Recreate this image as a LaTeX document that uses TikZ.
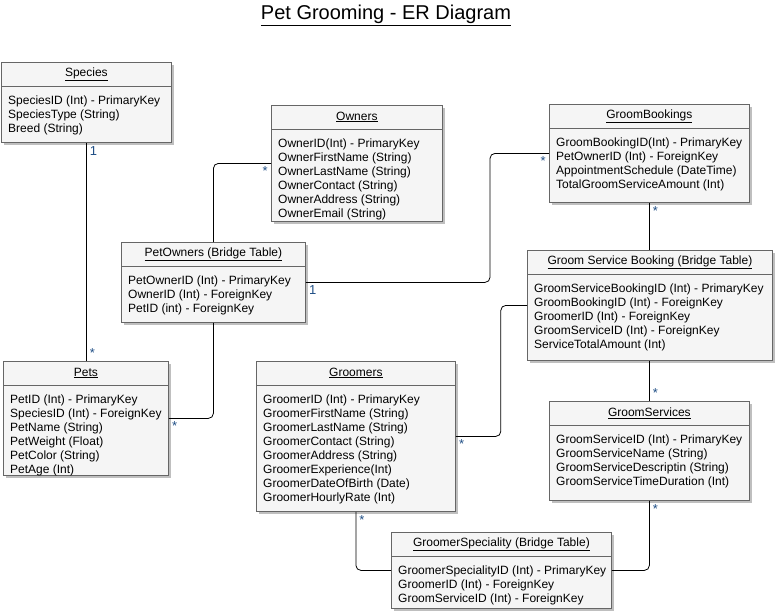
\documentclass[tikz,border=0pt]{standalone}
\usepackage{fontspec}
\setmainfont{Liberation Sans}
\usepackage{tikz}
\usetikzlibrary{shadows}
\usetikzlibrary{positioning}
\definecolor{boxfill}{HTML}{F5F5F5}
\definecolor{boxline}{HTML}{666666}
\definecolor{cardblue}{HTML}{1F4E85}

\begin{document}
\begin{tikzpicture}[x=1pt, y=-1pt,
	entity/.style={draw=boxline, fill=boxfill, anchor=north west, inner sep=0pt, line width=0.8pt, drop shadow={shadow xshift=3pt, shadow yshift=-3pt, fill=black, opacity=0.25}},
	head/.style={font=\fontsize{12}{14}\selectfont, inner sep=0pt},
	fields/.style={font=\fontsize{12}{14}\selectfont, align=left, anchor=north west, inner sep=0pt},
	sepline/.style={draw=boxline, line width=0.8pt},
	link/.style={draw=black, line width=0.8pt, rounded corners=5pt},
	card/.style={text=cardblue, font=\fontsize{13}{15}\selectfont, inner sep=3pt}]
	\useasboundingbox (0,0) rectangle (775,614);
	\node[font=\fontsize{20}{24}\selectfont, inner sep=0pt] (title) at (386,15) {\underline{Pet Grooming - ER Diagram}};

	\node[entity, minimum width=170, minimum height=80] (species) at (1,62) {};
	\node[head] (species head) at ([yshift=-12pt]species.north) {\underline{Species}};
	\draw[sepline] ([yshift=-24pt]species.north west) -- ([yshift=-24pt]species.north east);
	\node[fields] (species fields) at ([xshift=7pt, yshift=-34pt]species.north west) {SpeciesID (Int) - PrimaryKey\\ SpeciesType (String)\\ Breed (String)};

	\node[entity, minimum width=171, minimum height=116] (owners) at (271,105) {};
	\node[head] (owners head) at ([yshift=-12pt]owners.north) {\underline{Owners}};
	\draw[sepline] ([yshift=-24pt]owners.north west) -- ([yshift=-24pt]owners.north east);
	\node[fields] (owners fields) at ([xshift=7pt, yshift=-34pt]owners.north west) {OwnerID(Int) - PrimaryKey\\ OwnerFirstName (String)\\ OwnerLastName (String)\\ OwnerContact (String)\\ OwnerAddress (String)\\ OwnerEmail (String)};

	\node[entity, minimum width=200, minimum height=98] (bookings) at (549,104) {};
	\node[head] (bookings head) at ([yshift=-12pt]bookings.north) {\underline{GroomBookings}};
	\draw[sepline] ([yshift=-24pt]bookings.north west) -- ([yshift=-24pt]bookings.north east);
	\node[fields] (bookings fields) at ([xshift=7pt, yshift=-34pt]bookings.north west) {GroomBookingID(Int) - PrimaryKey\\ PetOwnerID (Int) - ForeignKey\\ AppointmentSchedule (DateTime)\\ TotalGroomServiceAmount (Int)};

	\node[entity, minimum width=184, minimum height=80] (petowners) at (121,242) {};
	\node[head] (petowners head) at ([yshift=-12pt]petowners.north) {\underline{PetOwners (Bridge Table)}};
	\draw[sepline] ([yshift=-24pt]petowners.north west) -- ([yshift=-24pt]petowners.north east);
	\node[fields] (petowners fields) at ([xshift=7pt, yshift=-34pt]petowners.north west) {PetOwnerID (Int) - PrimaryKey\\ OwnerID (Int) - ForeignKey\\ PetID (int) - ForeignKey};

	\node[entity, minimum width=165, minimum height=114] (pets) at (3,361) {};
	\node[head] (pets head) at ([yshift=-12pt]pets.north) {\underline{Pets}};
	\draw[sepline] ([yshift=-24pt]pets.north west) -- ([yshift=-24pt]pets.north east);
	\node[fields] (pets fields) at ([xshift=7pt, yshift=-34pt]pets.north west) {PetID (Int) - PrimaryKey\\ SpeciesID (Int) - ForeignKey\\ PetName (String)\\ PetWeight (Float)\\ PetColor (String)\\ PetAge (Int)};

	\node[entity, minimum width=199, minimum height=150] (groomers) at (256,361) {};
	\node[head] (groomers head) at ([yshift=-12pt]groomers.north) {\underline{Groomers}};
	\draw[sepline] ([yshift=-24pt]groomers.north west) -- ([yshift=-24pt]groomers.north east);
	\node[fields] (groomers fields) at ([xshift=7pt, yshift=-34pt]groomers.north west) {GroomerID (Int) - PrimaryKey\\ GroomerFirstName (String)\\ GroomerLastName (String)\\ GroomerContact (String)\\ GroomerAddress (String)\\ GroomerExperience(Int)\\ GroomerDateOfBirth (Date)\\ GroomerHourlyRate (Int)};

	\node[entity, minimum width=245, minimum height=110] (servicebooking) at (527,250) {};
	\node[head] (servicebooking head) at ([yshift=-12pt]servicebooking.north) {\underline{Groom Service Booking (Bridge Table)}};
	\draw[sepline] ([yshift=-24pt]servicebooking.north west) -- ([yshift=-24pt]servicebooking.north east);
	\node[fields] (servicebooking fields) at ([xshift=7pt, yshift=-34pt]servicebooking.north west) {GroomServiceBookingID (Int) - PrimaryKey\\ GroomBookingID (Int) - ForeignKey\\ GroomerID (Int) - ForeignKey\\ GroomServiceID (Int) - ForeignKey\\ ServiceTotalAmount (Int)};

	\node[entity, minimum width=200, minimum height=99] (services) at (549,401) {};
	\node[head] (services head) at ([yshift=-12pt]services.north) {\underline{GroomServices}};
	\draw[sepline] ([yshift=-24pt]services.north west) -- ([yshift=-24pt]services.north east);
	\node[fields] (services fields) at ([xshift=7pt, yshift=-34pt]services.north west) {GroomServiceID (Int) - PrimaryKey\\ GroomServiceName (String)\\ GroomServiceDescriptin (String)\\ GroomServiceTimeDuration (Int)};

	\node[entity, minimum width=220, minimum height=76] (speciality) at (391,532) {};
	\node[head] (speciality head) at ([yshift=-12pt]speciality.north) {\underline{GroomerSpeciality (Bridge Table)}};
	\draw[sepline] ([yshift=-24pt]speciality.north west) -- ([yshift=-24pt]speciality.north east);
	\node[fields] (speciality fields) at ([xshift=7pt, yshift=-34pt]speciality.north west) {GroomerSpecialityID (Int) - PrimaryKey\\ GroomerID (Int) - ForeignKey\\ GroomServiceID (Int) - ForeignKey};

	\draw[link] (species.south) -- node[card, at start, anchor=north west] (species one) {1} node[card, at end, anchor=south west] (pets many) {*} (species.south |- pets.north);
	\draw[link] (owners.west) -| node[card, at start, anchor=north east] (owners many) {*} (petowners.north);
	\draw[link] (petowners.east) -| ([xshift=-59pt]bookings.west) -- node[card, at end, anchor=north east] (bookings many) {*} (bookings.west);
	\node[card, anchor=north west] (petowners one) at (petowners.east) {1};
	\draw[link] (petowners.south) |- node[card, at end, anchor=north west] (petowners many) {*} (pets.east);
	\draw[link] (bookings.south) -- node[card, at start, anchor=north west] (bookings lines) {*} (bookings.south |- servicebooking.north);
	\draw[link] (servicebooking.west) -| ([xshift=45pt]groomers.east) -- node[card, at end, anchor=north west] (groomers many) {*} (groomers.east);
	\draw[link] (bookings.south |- servicebooking.south) -- node[card, at end, anchor=south west] (services many) {*} (bookings.south |- services.north);
	\draw[link] (groomers.south) |- node[card, at start, anchor=north west] (groomers skill) {*} (speciality.west);
	\draw[link] (services.south) |- node[card, at start, anchor=north west] (services skill) {*} (speciality.east);
\end{tikzpicture}
\end{document}
